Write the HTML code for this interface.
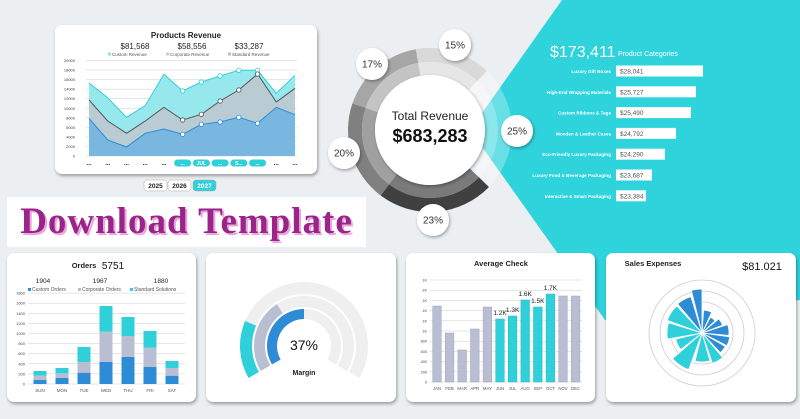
<!DOCTYPE html>
<html><head><meta charset="utf-8">
<style>
*{margin:0;padding:0;box-sizing:border-box}
body{width:800px;height:419px;overflow:hidden;background:#eceff2;font-family:"Liberation Sans",sans-serif;position:relative}
.p{position:absolute;background:#fff;border-radius:7px;box-shadow:1px 2px 3px rgba(0,0,0,.35)}
svg{position:absolute;left:0;top:0}
.dl{position:absolute;left:7px;top:197px;width:359px;height:50px;background:#fff;font-family:"Liberation Serif",serif;font-weight:bold;font-size:37px;color:#9a2487;text-shadow:2px 2px 0 #e9a6dc;letter-spacing:1px;text-align:center;line-height:50px;white-space:nowrap}
</style></head><body>
<svg width="800" height="419"><polygon points="562,0 800,0 800,300 605,320 470,130" fill="#2fd3dc"/></svg>
<div class="p" style="left:55px;top:25px;width:262px;height:149px"></div>
<div class="p" style="left:7px;top:253px;width:189px;height:149px"></div>
<div class="p" style="left:206px;top:253px;width:190px;height:149px"></div>
<div class="p" style="left:406px;top:253px;width:189px;height:149px"></div>
<div class="p" style="left:606px;top:253px;width:190px;height:149px"></div>
<div class="dl">Download Template</div>
<svg id="s" width="800" height="419" font-family="Liberation Sans, sans-serif">
<defs><filter id="sh" x="-30%" y="-30%" width="160%" height="160%"><feDropShadow dx="1" dy="1.5" stdDeviation="1.5" flood-opacity="0.35"/></filter></defs>
</svg>
<script>
const s=document.getElementById('s');let h='';
function P(cx,cy,r,a){a=(a-90)*Math.PI/180;return (cx+r*Math.cos(a)).toFixed(2)+' '+(cy+r*Math.sin(a)).toFixed(2)}
function ring(cx,cy,r0,r1,a0,a1){const l=a1-a0>180?1:0;return `M${P(cx,cy,r1,a0)} A${r1} ${r1} 0 ${l} 1 ${P(cx,cy,r1,a1)} L${P(cx,cy,r0,a1)} A${r0} ${r0} 0 ${l} 0 ${P(cx,cy,r0,a0)}Z`}
function T(x,y,t,sz,o){o=o||{};h+=`<text x="${x}" y="${y}" font-size="${sz}" fill="${o.f||'#222'}" text-anchor="${o.a||'middle'}" font-weight="${o.w||'normal'}">${t}</text>`}
// donut
const cx=430,cy=130;
const seg=[[-10,44,'#d9d9d9','#e6e6e6'],[44,134,'rgba(255,255,255,.28)','rgba(255,255,255,.45)'],[134,217,'#404040','#7a7a7a'],[217,289,'#808080','#a0a0a0'],[289,350,'#a6a6a6','#c4c4c4']];
seg.forEach(g=>{h+=`<path d="${ring(cx,cy,68,82,g[0],g[1])}" fill="${g[2]}"/><path d="${ring(cx,cy,55,68,g[0],g[1])}" fill="${g[3]}"/>`});
h+=`<circle cx="${cx}" cy="${cy}" r="55" fill="#fff" filter="url(#sh)"/>`;
T(cx,120,'Total Revenue',12);T(cx,142,'$683,283',18,{w:'bold',f:'#111'});
[[455,45,'15%'],[372,64,'17%'],[344,153,'20%'],[517,131,'25%'],[433,220,'23%']].forEach(b=>{h+=`<circle cx="${b[0]}" cy="${b[1]}" r="16" fill="#fff" filter="url(#sh)"/>`;T(b[0],b[1]+3.5,b[2],10,{f:'#333'})});
// categories
T(550,57,'$173,411',16,{a:'start',f:'#fff'});T(618,56,'Product Categories',7,{a:'start',f:'#fff'});
[['Luxury Gift Boxes','$28,041',87],['High-End Wrapping Materials','$25,727',80],['Custom Ribbons &amp; Tags','$25,490',75],['Wooden &amp; Leather Cases','$24,792',60],['Eco-Friendly Luxury Packaging','$24,290',49],['Luxury Food &amp; Beverage Packaging','$23,687',36],['Interactive &amp; Smart Packaging','$23,384',30]].forEach((r,i)=>{const y=71+i*20.8;h+=`<rect x="616" y="${y-5.5}" width="${r[2]}" height="11" fill="#fff"/>`;T(611,y+2,r[0],4.6,{a:'end',f:'#fff',w:'bold'});T(620,y+2.5,r[1],6.5,{a:'start',f:'#555'})});
// products revenue
T(186,38,'Products Revenue',8,{w:'bold'});
T(135,49,'$81,568',8,{f:'#222'});T(192,49,'$58,556',8);T(249,49,'$33,287',8);
[[112,'#8ee6ea','Custom Revenue'],[170,'#c4d3d8','Corporate Revenue'],[232,'#9cc9e8','Standard Revenue']].forEach(l=>{h+=`<rect x="${l[0]-4}" y="52.5" width="3" height="3" fill="${l[1]}"/>`;T(l[0],56,l[2],4.5,{a:'start',f:'#555'})});
for(let i=0;i<=10;i++){const y=156-i*9.55;h+=`<line x1="86" x2="297" y1="${y}" y2="${y}" stroke="#ccc" stroke-width=".5"/>`;T(75,y+1.5,i?i*2000:0,4,{a:'end',f:'#444'})}
const X=i=>89+i*18.73;
const A=[83,97.7,117.3,105.7,74.3,91,82,76,70.3,70.3,93.3,75.3],B=[100,121,133.3,121,107.3,120,114.3,101,90,74,102,88.3],C=[118.3,140,147,133.3,129,134.3,124.3,122,117.3,123.3,107.3,114.7];
function area(d,f,st){let p=d.map((y,i)=>X(i).toFixed(1)+','+y).join(' ');h+=`<polygon points="${X(0)},156 ${p} ${X(11)},156" fill="${f}"/><polyline points="${p}" fill="none" stroke="${st}" stroke-width="1"/>`}
area(A,'#97e8ec','#2fcfd9');area(B,'#b9ccd4','#555');area(C,'#79b7e0','#2e8bd6');
[[A,'#2fcfd9'],[B,'#555'],[C,'#2e8bd6']].forEach(q=>{for(let i=5;i<10;i++)h+=`<circle cx="${X(i)}" cy="${q[0][i]}" r="2.2" fill="#fff" stroke="${q[1]}" stroke-width=".8"/>`});
['...','...','...','...','...','...','JUL','...','S...','...','...','...'].forEach((t,i)=>{if(i>=5&&i<=9){h+=`<rect x="${X(i)-8.5}" y="159.5" width="17" height="7" rx="3.5" fill="#2fd0d9"/>`;T(X(i),165,t,5,{f:'#fff',w:'bold'})}else T(X(i),165,t,6,{w:'bold'})});
[[144,'2025','#fff','#222'],[168,'2026','#fff','#222'],[193,'2027','#2fd0d9','#fff']].forEach(b=>{h+=`<rect x="${b[0]}" y="180" width="23" height="11" rx="3" fill="${b[2]}" stroke="#aaa" stroke-width=".5"/>`;T(b[0]+11.5,188,b[1],6.5,{f:b[3],w:'bold'})});
// orders
T(84,268,'Orders',7.5,{w:'bold'});T(113,269,'5751',10,{f:'#111'});
T(43,283,'1904',6.5);T(100,283,'1967',6.5);T(161,283,'1880',6.5);
[[28,'#2e8bd6','Custom Orders'],[78,'#b9bed3','Corporate Orders'],[130,'#2fd0d9','Standard Solutions']].forEach(l=>{h+=`<rect x="${l[0]}" y="288" width="3" height="3" fill="${l[1]}"/>`;T(l[0]+4,291,l[2],5,{a:'start',f:'#555'})});
for(let i=0;i<=9;i++){const y=384-i*10.1;h+=`<line x1="28" x2="185" y1="${y}" y2="${y}" stroke="#ccc" stroke-width=".5"/>`;T(25,y+1.5,i*200,4,{a:'end',f:'#444'})}
const O=[[40,380,375.7,371,'SUN'],[62,378,373.3,368,'MON'],[84,372.7,362,347,'TUE'],[106,362,331.7,306,'WED'],[128,357,336,317,'THU'],[150,367,347.7,331,'FRI'],[172,375.7,368,361,'SAT']];
O.forEach(o=>{const x=o[0]-6.5;h+=`<rect x="${x}" y="${o[1]}" width="13" height="${384-o[1]}" fill="#2e8bd6"/><rect x="${x}" y="${o[2]}" width="13" height="${o[1]-o[2]}" fill="#b9bed3"/><rect x="${x}" y="${o[3]}" width="13" height="${o[2]-o[3]}" fill="#2fd0d9"/>`;T(o[0],392,o[4],4.5,{f:'#555'})});
// margin
const mx=304,my=346;
[[52,64,-67,'#2fd0d9'],[39,50,-33,'#b9bed3'],[27,37,0,'#2e8bd6']].forEach(r=>{h+=`<path d="${ring(mx,my,r[0],r[1],-120,120)}" fill="#efefef"/><path d="${ring(mx,my,r[0],r[1],-120,r[2])}" fill="${r[3]}"/>`});
T(304,350,'37%',14,{f:'#111'});T(304,375,'Margin',7,{w:'bold'});
// average check
T(501,266,'Average Check',7.5,{w:'bold'});
for(let i=0;i<=10;i++){const y=382-i*10.2;h+=`<line x1="430" x2="582" y1="${y}" y2="${y}" stroke="#ccc" stroke-width=".5"/>`;T(427,y+1.5,i?(i*200>=1000?'1K':i*200):0,3.8,{a:'end',f:'#444'})}
const AV=[306,333,350,329,307,319,316,300,307,294,296,296],M=['JAN','FEB','MAR','APR','MAY','JUN','JUL','AUG','SEP','OCT','NOV','DEC'],LB={5:'1.2K',6:'1.3K',7:'1.6K',8:'1.5K',9:'1.7K'};
AV.forEach((y,i)=>{const x=437+i*12.6,c=(i>=5&&i<=9)?'#2fd0d9':'#b9bed3';h+=`<rect x="${x-4.3}" y="${y}" width="8.6" height="${382-y}" fill="${c}" stroke="${i>=5&&i<=9?'#22b8c2':'#9ea3bd'}" stroke-width=".5"/>`;T(x,390,M[i],4.3,{f:'#555'});if(LB[i])T(x,y-4,LB[i],6.5,{f:'#222'})});
// sales expenses
T(653,266,'Sales Expenses',7.5,{w:'bold'});T(762,270,'$81.021',11,{f:'#111'});
const px=702,py=333;
[53,42,31].forEach(r=>h+=`<circle cx="${px}" cy="${py}" r="${r}" fill="none" stroke="#ccc" stroke-width=".8"/>`);
const W=[[-14,0,44,'#2e8bd6'],[-40,-17,38,'#2e8bd6'],[-70,-43,37,'#2fd0d9'],[-100,-73,35,'#2fd0d9'],[-128,-103,27,'#2fd0d9'],[-160,-131,39,'#2fd0d9'],[164,194,29,'#2fd0d9'],[140,161,32,'#2fd0d9'],[120,137,27,'#2e8bd6'],[98,117,28,'#2e8bd6'],[72,95,27,'#2e8bd6'],[50,69,22,'#2e8bd6'],[28,47,18,'#2e8bd6'],[4,25,23,'#2e8bd6']];
W.forEach(w=>h+=`<path d="M${px} ${py} L${P(px,py,w[2],w[0])} A${w[2]} ${w[2]} 0 0 1 ${P(px,py,w[2],w[1])}Z" fill="${w[3]}" stroke="#fff" stroke-width=".8"/>`);
s.innerHTML+=h;
</script>
</body></html>
